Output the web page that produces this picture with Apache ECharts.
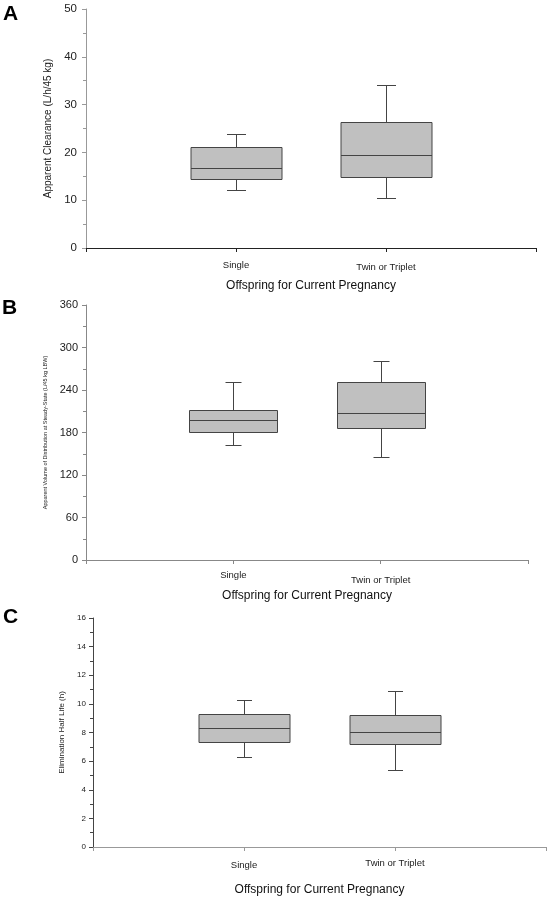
<!DOCTYPE html>
<html>
<head>
<meta charset="utf-8">
<script src="https://cdn.jsdelivr.net/npm/echarts@6/dist/echarts.min.js"></script>
<style>
html,body{margin:0;padding:0;background:#fff;}
#chart{width:549px;height:900px;}
</style>
</head>
<body>
<div id="chart"></div>
<script>
// Categories
const categories = ['Single', 'Twin or Triplet'];
// [min, q1, median, q3, max] per category
const clearance = [[12.1, 14.4, 16.7, 21.1, 23.8], [10.4, 14.9, 19.4, 26.3, 34.1]];
const volume = [[163, 181, 198, 212, 252], [145, 186, 208, 252, 281]];
const halfLife = [[6.3, 7.36, 8.32, 9.32, 10.27], [5.38, 7.17, 8.04, 9.2, 10.9]];
// Axis ticks
const yTicksA = {min: 0, max: 50, interval: 10};
const yTicksB = {min: 0, max: 360, interval: 60};
const yTicksC = {min: 0, max: 16, interval: 2};

const FONT = 'Liberation Sans, Arial, sans-serif';
const chart = echarts.init(document.getElementById('chart'), null, {renderer: 'canvas'});

function toData(arr) {
  return arr.map((v, i) => [i + 1].concat(v));
}

function makeRender(boxW, capW) {
  return function (params, api) {
    const x = api.value(0);
    const p = [1, 2, 3, 4, 5].map(i => api.coord([x, api.value(i)]));
    const cx = Math.round(p[0][0]) + 0.5;
    const ys = p.map(q => Math.round(q[1]) + 0.5);
    const st = {stroke: '#444', lineWidth: 1};
    return {
      type: 'group',
      children: [
        {type: 'line', shape: {x1: cx, y1: ys[4], x2: cx, y2: ys[3]}, style: st},
        {type: 'line', shape: {x1: cx, y1: ys[1], x2: cx, y2: ys[0]}, style: st},
        {type: 'line', shape: {x1: cx - capW / 2, y1: ys[4], x2: cx + capW / 2, y2: ys[4]}, style: st},
        {type: 'line', shape: {x1: cx - capW / 2, y1: ys[0], x2: cx + capW / 2, y2: ys[0]}, style: st},
        {type: 'rect', shape: {x: cx - boxW / 2, y: ys[3], width: boxW, height: ys[1] - ys[3]},
          style: {fill: '#c0c0c0', stroke: '#444', lineWidth: 1}},
        {type: 'line', shape: {x1: cx - boxW / 2, y1: ys[2], x2: cx + boxW / 2, y2: ys[2]}, style: st}
      ]
    };
  };
}

function xAxisCfg(gi, color, labelSize, labelMargin, nameGap, pads) {
  const data = [''].concat(categories.map((c, i) => ({
    value: c, textStyle: {padding: [pads[i], 0, 0, 0]}
  }))).concat(['']);
  return {
    type: 'category', gridIndex: gi, boundaryGap: false,
    data: data,
    axisLine: {lineStyle: {color: color, width: 1}},
    axisTick: {show: true, length: 4, inside: false, lineStyle: {color: color}},
    axisLabel: {interval: 0, fontFamily: FONT, fontSize: labelSize, color: '#222', margin: labelMargin},
    splitLine: {show: false},
    name: 'Offspring for Current Pregnancy', nameLocation: 'middle', nameGap: nameGap,
    nameTextStyle: {fontFamily: FONT, fontSize: 12, color: '#111'}
  };
}

function yAxisCfg(gi, ticks, color, labelSize, labelMargin, name, nameSize, nameGap) {
  return {
    type: 'value', gridIndex: gi, min: ticks.min, max: ticks.max, interval: ticks.interval,
    axisLine: {show: true, lineStyle: {color: color, width: 1}},
    axisTick: {show: true, length: 4, lineStyle: {color: color}},
    minorTick: {show: true, splitNumber: 2, length: 3, lineStyle: {color: color}},
    axisLabel: {fontFamily: FONT, fontSize: labelSize, color: '#222', margin: labelMargin},
    splitLine: {show: false},
    name: name, nameLocation: 'middle', nameRotate: 90, nameGap: nameGap,
    nameTextStyle: {fontFamily: FONT, fontSize: nameSize, color: '#222'}
  };
}

const option = {
  backgroundColor: '#fff',
  animation: false,
  grid: [
    {left: 86, top: 9, width: 450, height: 239},
    {left: 86, top: 305, width: 442, height: 255},
    {left: 93, top: 618, width: 453, height: 229}
  ],
  xAxis: [
    xAxisCfg(0, '#222', 9.5, 12, 32, [0, 2]),
    xAxisCfg(1, '#888', 9.5, 10, 30, [0, 5]),
    xAxisCfg(2, '#999', 9.5, 11, 37, [2, 0])
  ],
  yAxis: [
    yAxisCfg(0, yTicksA, '#999', 11.5, 9, 'Apparent Clearance (L/h/45 kg)', 10, 26),
    yAxisCfg(1, yTicksB, '#888', 11, 8, 'Apparent Volume of Distribution at Steady-State (L/45 kg LBW)', 5.5, 35),
    yAxisCfg(2, yTicksC, '#444', 8, 7, 'Elimination Half Life (h)', 8, 24)
  ],
  graphic: [
    {type: 'text', left: 3, top: 4, style: {text: 'A', font: 'bold 21px ' + FONT, fill: '#000'}},
    {type: 'text', left: 2, top: 298, style: {text: 'B', font: 'bold 21px ' + FONT, fill: '#000'}},
    {type: 'text', left: 3, top: 607, style: {text: 'C', font: 'bold 21px ' + FONT, fill: '#000'}}
  ],
  series: [
    {type: 'custom', xAxisIndex: 0, yAxisIndex: 0, data: toData(clearance),
      encode: {x: 0, y: [1, 2, 3, 4, 5]}, renderItem: makeRender(91, 19)},
    {type: 'custom', xAxisIndex: 1, yAxisIndex: 1, data: toData(volume),
      encode: {x: 0, y: [1, 2, 3, 4, 5]}, renderItem: makeRender(88, 16)},
    {type: 'custom', xAxisIndex: 2, yAxisIndex: 2, data: toData(halfLife),
      encode: {x: 0, y: [1, 2, 3, 4, 5]}, renderItem: makeRender(91, 15)}
  ]
};
chart.setOption(option);
</script>
</body>
</html>
